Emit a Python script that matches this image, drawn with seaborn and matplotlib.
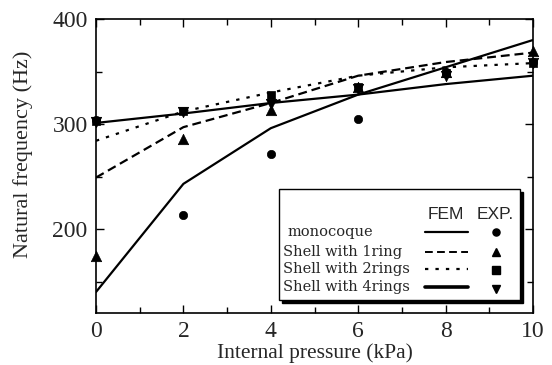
import matplotlib
matplotlib.use("Agg")
import matplotlib.pyplot as plt
from matplotlib.patches import Rectangle
from matplotlib.ticker import MultipleLocator
import pandas as pd
import seaborn as sns

sns.set_theme(style="ticks")
plt.rcParams["font.family"] = ["Liberation Serif", "DejaVu Serif"]

# Internal pressure (kPa)
pressure = [0, 2, 4, 6, 8, 10]

# FEM natural frequencies (Hz)
fem_mono = [140, 243, 296, 328, 354, 380]
fem_1ring = [249, 297, 320, 346, 359, 368]
fem_2rings = [284, 312, 330, 346, 354, 358]
fem_4rings = [301, 310, 320, 328, 338, 346]

# Experimental natural frequencies (Hz)
exp_mono = [304, 213, 271, 305, 350, 359]
exp_1ring = [174, 286, 313, 335, 350, 370]
exp_2rings = [303, 312, 328, 335, 349, 358]
exp_4rings = [302, 311, 319, 333, 346, 358]

series_labels = ["monocoque", "Shell with 1ring", "Shell with 2rings", "Shell with 4rings"]
line_styles = ["-", (0, (4, 2.2)), (0, (1.5, 3.2)), "-"]
legend_widths = [1.6, 1.4, 1.6, 2.6]
marker_shapes = ["o", "^", "s", "v"]
marker_sizes = [6, 7.5, 6, 7.5]

fem = [fem_mono, fem_1ring, fem_2rings, fem_4rings]
exp = [exp_mono, exp_1ring, exp_2rings, exp_4rings]

fig = plt.figure(figsize=(5.52, 3.65), dpi=100)
ax = fig.add_axes([96 / 552, 1 - 313 / 365, 437 / 552, 294 / 365])

for vals, ls in zip(fem, line_styles):
    df = pd.DataFrame({"p": pressure, "f": vals})
    sns.lineplot(data=df, x="p", y="f", ax=ax, color="black",
                 linewidth=1.6, linestyle=ls, estimator=None, sort=False)

for vals, mk, ms in zip(exp, marker_shapes, marker_sizes):
    df = pd.DataFrame({"p": pressure, "f": vals})
    sns.scatterplot(data=df, x="p", y="f", ax=ax, color="black", marker=mk,
                    s=ms ** 2, edgecolor="black", linewidth=0.5, zorder=5,
                    clip_on=False)

ax.set_xlim(0, 10)
ax.set_ylim(120, 400)
ax.xaxis.set_major_locator(MultipleLocator(2))
ax.xaxis.set_minor_locator(MultipleLocator(1))
ax.yaxis.set_major_locator(MultipleLocator(100))
ax.yaxis.set_minor_locator(MultipleLocator(50))
ax.tick_params(which="both", direction="in", top=True, right=True,
               color="black", width=1.0)
ax.tick_params(which="major", length=6, labelsize=17, pad=6)
ax.tick_params(which="minor", length=4.5)
for sp in ax.spines.values():
    sp.set_visible(True)
    sp.set_color("black")
    sp.set_linewidth(1.2)

ax.set_xlabel("Internal pressure (kPa)", fontsize=15.5, labelpad=1)
ax.set_ylabel("Natural frequency (Hz)", fontsize=16)
ax.yaxis.set_label_coords(-0.145, 0.54)

# Legend box with drop shadow
tr = ax.transAxes
px = lambda d: d / 437
py = lambda d: d / 294
box_l, box_b, box_w, box_h = 0.419, 0.044, 0.552, 0.378
ax.add_patch(Rectangle((box_l + px(3), box_b - py(3)), box_w, box_h,
                       transform=tr, facecolor="black", edgecolor="black",
                       zorder=8, clip_on=False))
ax.add_patch(Rectangle((box_l, box_b), box_w, box_h, transform=tr,
                       facecolor="white", edgecolor="black", linewidth=1.0,
                       zorder=9, clip_on=False))

hdr_font = ["Liberation Sans", "DejaVu Sans"]
ax.text(0.801, 0.334, "FEM", transform=tr, ha="center", va="center",
        fontsize=12.5, family=hdr_font, zorder=10)
ax.text(0.913, 0.334, "EXP.", transform=tr, ha="center", va="center",
        fontsize=12.5, family=hdr_font, zorder=10)

row_y = [0.276, 0.207, 0.148, 0.087]
mark_y = [0.276, 0.207, 0.146, 0.082]
for i, (lab, ls, lw, mk, ms) in enumerate(zip(series_labels, line_styles,
                                              legend_widths, marker_shapes,
                                              marker_sizes)):
    x0 = 0.439 if i == 0 else 0.428
    ax.text(x0, row_y[i], lab, transform=tr, ha="left", va="center",
            fontsize=10.5, family=["DejaVu Serif"], zorder=10)
    ax.plot([0.753, 0.851], [row_y[i], row_y[i]], transform=tr,
            color="black", linewidth=lw, linestyle=ls, zorder=10,
            clip_on=False)
    ax.plot([0.915], [mark_y[i]], transform=tr, marker=mk, color="black",
            markersize=ms * 0.85, linestyle="none", zorder=10, clip_on=False)

fig.savefig("out.png", dpi=100)
